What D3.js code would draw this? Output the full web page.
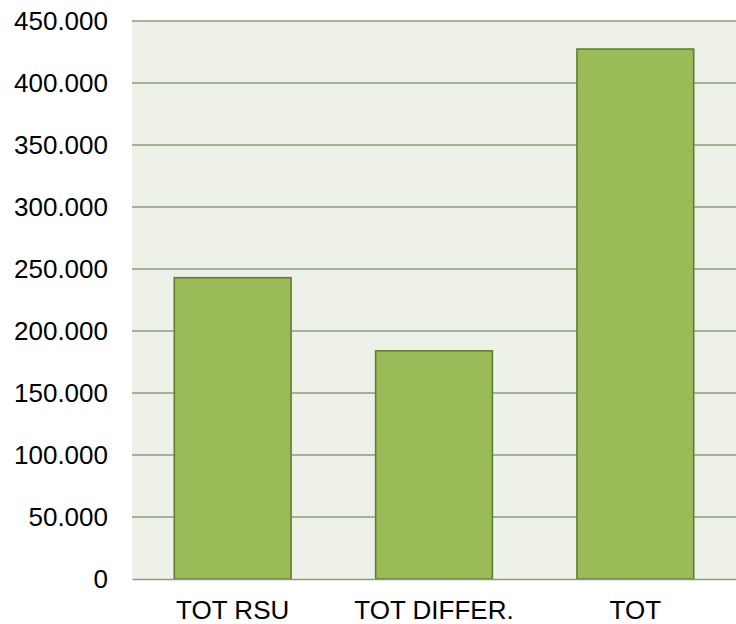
<!DOCTYPE html>
<html>
<head>
<meta charset="utf-8">
<style>
  body { margin: 0; background: #fff; }
  text { font-family: "Liberation Sans", Arial, sans-serif; fill: #000; }
</style>
</head>
<body>
<svg width="736" height="624"></svg>
<script src="https://cdnjs.cloudflare.com/ajax/libs/d3/7.8.5/d3.min.js"></script>
<script>
  // data
  var categories = ["TOT RSU", "TOT DIFFER.", "TOT"];
  var values = [243000, 184000, 427400];
  var yTicks = [0, 50000, 100000, 150000, 200000, 250000, 300000, 350000, 400000, 450000];

  var svg = d3.select("svg"),
    margin = { top: 21, right: 0, bottom: 45, left: 132 },
    width = +svg.attr("width") - margin.left - margin.right,
    height = +svg.attr("height") - margin.top - margin.bottom,
    g = svg.append("g").attr("transform", "translate(" + margin.left + "," + margin.top + ")");

  var x = d3.scaleBand()
    .domain(categories)
    .range([0, width])
    .paddingInner(0.42)
    .paddingOuter(0.21);

  var y = d3.scaleLinear()
    .domain([0, 450000])
    .range([height, 0]);

  // italian style thousands: 450.000
  var fmt = d3.formatLocale({ decimal: ",", thousands: ".", grouping: [3], currency: ["", "€"] }).format(",d");

  // plot background
  g.append("rect")
    .attr("width", width)
    .attr("height", height)
    .attr("fill", "#eef1e8");

  // grid lines
  g.append("g")
    .selectAll("line")
    .data(yTicks.slice(1))
    .enter().append("line")
    .attr("x1", 0)
    .attr("x2", width)
    .attr("y1", function (d) { return y(d); })
    .attr("y2", function (d) { return y(d); })
    .attr("stroke", "#8e9b7e")
    .attr("stroke-width", 1.6);

  // bars
  g.append("g")
    .selectAll("rect")
    .data(values)
    .enter().append("rect")
    .attr("x", function (d, i) { return x(categories[i]); })
    .attr("y", function (d) { return y(d); })
    .attr("width", x.bandwidth())
    .attr("height", function (d) { return height - y(d); })
    .attr("fill", "#9bbb59")
    .attr("stroke", "#5f7f33")
    .attr("stroke-width", 1.6);

  // y axis labels
  var yAxis = g.append("g")
    .call(d3.axisLeft(y).tickValues(yTicks).tickFormat(fmt).tickSize(0).tickPadding(24));
  yAxis.select(".domain").remove();
  yAxis.selectAll("text")
    .attr("font-size", "26px")
    .attr("font-family", "'Liberation Sans', Arial, sans-serif")
    .attr("dy", "0.33em");

  // x axis
  var xAxis = g.append("g")
    .attr("transform", "translate(0," + height + ")")
    .call(d3.axisBottom(x).tickSize(0).tickPadding(22));
  xAxis.select(".domain")
    .attr("stroke", "#8e9b7e")
    .attr("stroke-width", 1.6);
  xAxis.selectAll("text")
    .attr("font-size", "26px")
    .attr("font-family", "'Liberation Sans', Arial, sans-serif");
</script>
</body>
</html>
